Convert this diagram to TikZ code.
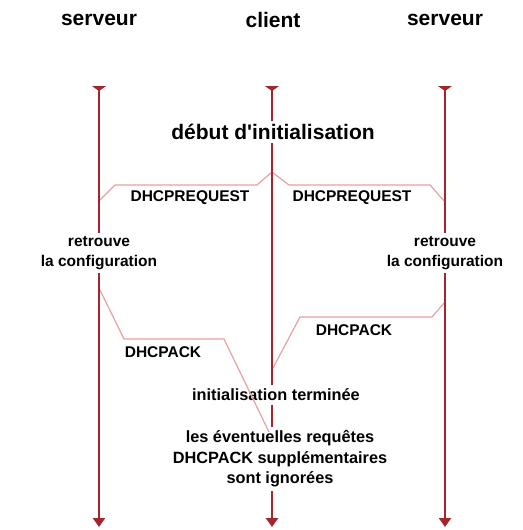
\documentclass[tikz,border=0pt]{standalone}
\usepackage{fontspec}
\setmainfont{Liberation Sans}[Ligatures=TeXOff]
\usetikzlibrary{arrows.meta}
\definecolor{ligne}{RGB}{163,38,44}
\definecolor{msg}{RGB}{232,160,160}

\begin{document}
\begin{tikzpicture}[x=1pt,y=-1pt,
  titre/.style={font=\bfseries\fontsize{21}{25}\selectfont},
  texte/.style={font=\bfseries\fontsize{15.5}{20.5}\selectfont,align=center},
  note/.style={font=\bfseries\fontsize{16.3}{20.5}\selectfont,align=center},
  axe/.style={draw=ligne,line width=2.3pt},
  message/.style={draw=msg,line width=1.2pt}]
\useasboundingbox (0,0) rectangle (522,530);
\node [titre] (s1) at (99,20) {serveur};
\node [titre] (c) at (273,20) {client};
\node [titre] (s2) at (445,20) {serveur};
\coordinate (a1) at (99,86);
\coordinate (a2) at (272,86);
\coordinate (a3) at (445,86);
\coordinate (b1) at (99,527);
\coordinate (b2) at (272,527);
\coordinate (b3) at (445,527);
\node [titre] (d) at (273,132) {début d'initialisation};
\node [texte] (r1) at (99,253) {retrouve\\la configuration};
\node [texte] (r2) at (445,253) {retrouve\\la configuration};
\node [note] (t) at (276,395) {initialisation terminée};
\node [note] (n) at (280,459) {les éventuelles requêtes\\DHCPACK supplémentaires\\sont ignorées};
% messages
\coordinate (p) at (272,172);
\coordinate (q1) at (100,200);
\coordinate (q2) at (445,202);
\draw [message] (p) -- ++(-15,13) -- ++(-142,0) -- (q1);
\draw [message] (p) -- ++(17,13) -- ++(141,0) -- (q2);
\node [texte] (m1) at (190,198) {DHCPREQUEST};
\node [texte] (m2) at (352,198) {DHCPREQUEST};
\coordinate (k1) at (100,290);
\coordinate (e) at (269,432);
\draw [message] (k1) -- ++(24,49) -- ++(100,0) -- (e);
\node [texte] (m3) at (163,352) {DHCPACK};
\coordinate (k2) at (445,302);
\coordinate (f) at (273,368);
\draw [message] (k2) -- ++(-13,15) -- ++(-132,0) -- (f);
\node [texte] (m4) at (354,330) {DHCPACK};
% axes
\draw [axe,{Triangle[reversed,width=14pt,length=5pt]}-] (a1) -- (r1);
\draw [axe,-{Triangle[width=12pt,length=9pt]}] (r1) -- (b1);
\draw [axe,{Triangle[reversed,width=14pt,length=5pt]}-] (a3) -- (r2);
\draw [axe,-{Triangle[width=12pt,length=9pt]}] (r2) -- (b3);
\draw [axe,{Triangle[reversed,width=14pt,length=5pt]}-] (a2) -- (d.north -| a2);
\draw [axe] (d.south -| a2) -- (t.north -| a2);
\draw [axe] (t.south -| a2) -- (n.north -| a2);
\draw [axe,-{Triangle[width=12pt,length=9pt]}] (n.south -| a2) -- (b2);
\end{tikzpicture}
\end{document}
